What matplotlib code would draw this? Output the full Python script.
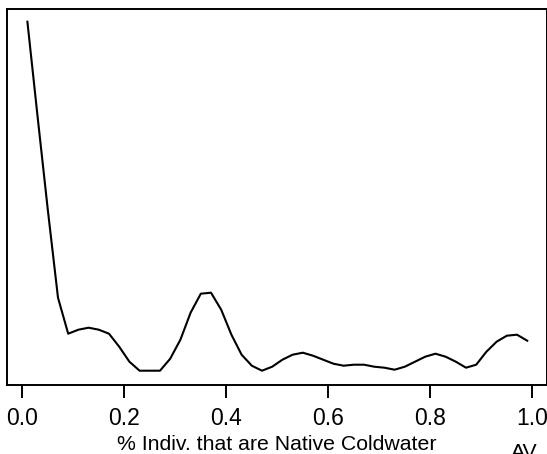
import matplotlib
matplotlib.use("Agg")
import matplotlib.pyplot as plt
import numpy as np

plt.rcParams['font.family'] = ['Liberation Sans', 'DejaVu Sans']

# proportion of individuals (bin centres) and density estimate (arbitrary units)
prop = [0.01, 0.03, 0.05, 0.07, 0.09, 0.11, 0.13, 0.15, 0.17, 0.19,
        0.21, 0.23, 0.25, 0.27, 0.29, 0.31, 0.33, 0.35, 0.37, 0.39,
        0.41, 0.43, 0.45, 0.47, 0.49, 0.51, 0.53, 0.55, 0.57, 0.59,
        0.61, 0.63, 0.65, 0.67, 0.69, 0.71, 0.73, 0.75, 0.77, 0.79,
        0.81, 0.83, 0.85, 0.87, 0.89, 0.91, 0.93, 0.95, 0.97, 0.99]
dens = [3.63, 2.68, 1.75, 0.87, 0.51, 0.55, 0.57, 0.55, 0.51, 0.38,
        0.23, 0.14, 0.14, 0.14, 0.26, 0.45, 0.72, 0.91, 0.92, 0.75,
        0.50, 0.30, 0.19, 0.14, 0.18, 0.25, 0.30, 0.32, 0.29, 0.25,
        0.21, 0.19, 0.20, 0.20, 0.18, 0.17, 0.15, 0.18, 0.23, 0.28,
        0.31, 0.28, 0.23, 0.17, 0.20, 0.33, 0.43, 0.49, 0.50, 0.44]
xticks = [0.0, 0.2, 0.4, 0.6, 0.8, 1.0]
xlabel = '% Indiv. that are Native Coldwater'

fig = plt.figure(figsize=(5.47, 4.54), dpi=100)
ax = fig.add_axes([7.3/547, 69.3/454, 539.2/547, 375.4/454])

ax.plot(prop, dens, color='black', lw=1.5)
ax.set_xlim(-0.0294, 1.0278)
ax.set_ylim(0, 3.754)

for s in ax.spines.values():
    s.set_linewidth(1.4)
ax.set_yticks([])
ax.set_xticks(xticks)
ax.set_xticklabels(['%.1f' % t for t in xticks])
ax.tick_params(axis='x', direction='out', length=9.5, width=1.4, pad=6.5, labelsize=16.5)
ax.set_xlabel(xlabel, fontsize=15.3, labelpad=3.5)

fig.text(511/547, 1 - 443/454, 'AV', fontsize=15.3, ha='left', va='top')

fig.savefig('out.png', dpi=100)
